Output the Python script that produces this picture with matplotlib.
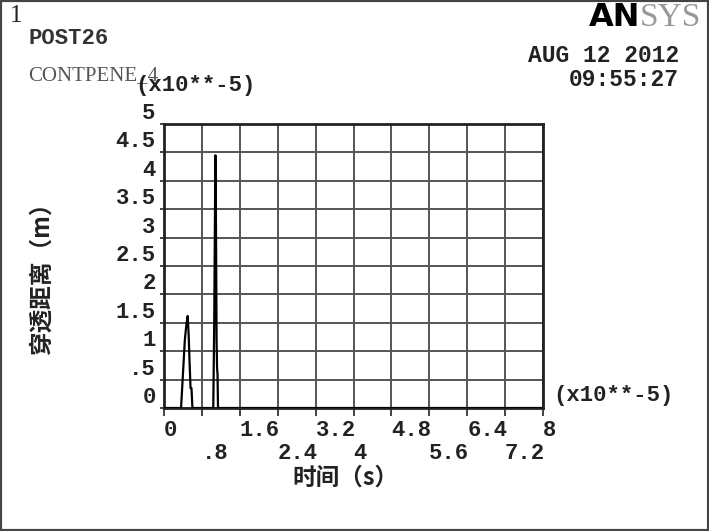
import matplotlib.pyplot as plt
from matplotlib.patches import Rectangle

plt.rcParams['font.family'] = ['Liberation Mono', 'DejaVu Sans Mono']

# contact penetration vs time (both axes in units of 1e-5)
time = [0, 0.36, 0.40, 0.44, 0.47, 0.50, 0.52, 0.54, 0.56, 0.58, 0.60,
        1.04, 1.06, 1.07, 1.085, 1.09, 1.10, 1.11, 1.12, 1.13, 1.14, 8.0]
pene = [0, 0, 0.6, 1.2, 1.45, 1.62, 1.3, 0.8, 0.35, 0.35, 0,
        0, 1.5, 2.7, 4.45, 4.2, 2.8, 1.2, 0.7, 0.6, 0, 0]

# x tick labels are staggered on two rows
xticks_top = [0, 1.6, 3.2, 4.8, 6.4, 8.0]
xlabels_top = ['0', '1.6', '3.2', '4.8', '6.4', '8']
xticks_low = [0.8, 2.4, 4.0, 5.6, 7.2]
xlabels_low = ['.8', '2.4', '4', '5.6', '7.2']
yticks = [0, 0.5, 1, 1.5, 2, 2.5, 3, 3.5, 4, 4.5, 5]
ylabels = ['0', '.5', '1', '1.5', '2', '2.5', '3', '3.5', '4', '4.5', '5']

fig = plt.figure(figsize=(7.09, 5.31), dpi=100)
ax = fig.add_axes([164/709, 1 - 408/531, 379/709, 284/531])

ax.plot(time, pene, color='black', lw=1.6, zorder=3)
ax.set_xlim(0, 8)
ax.set_ylim(0, 5)

ax.set_xticks(xticks_top, xlabels_top)
ax.set_xticks(xticks_low, xlabels_low, minor=True)
ax.set_yticks(yticks, ylabels)
for lab in ax.get_xticklabels() + ax.get_xticklabels(minor=True):
    lab.set_horizontalalignment('left')
    lab.set_fontweight('bold')
for lab in ax.get_yticklabels():
    lab.set_verticalalignment('bottom')
    lab.set_fontweight('bold')
ax.tick_params(axis='x', which='major', length=6, width=1.2, pad=3, labelsize=16, colors='#222')
ax.tick_params(axis='x', which='minor', length=6, width=1.2, pad=19, labelsize=16, colors='#222')
ax.tick_params(axis='y', length=3, width=1.2, pad=3, labelsize=16, colors='#222')
ax.grid(True, which='major', color='#555555', lw=1.4)
ax.grid(True, which='minor', axis='x', color='#555555', lw=1.4)
ax.set_axisbelow(True)
for s in ax.spines.values():
    s.set_linewidth(2)
    s.set_color('#222')

cjk = ['Noto Sans CJK SC', 'DejaVu Sans']
fig.text(345/709, 1 - 478/531, '时间（s）', family=cjk, fontsize=17, fontweight='bold',
         ha='center', va='center', color='#222')
fig.text(42/709, 1 - 273/531, '穿透距离（m）', family=cjk, fontsize=17, fontweight='bold',
         rotation=90, ha='center', va='center', color='#222')

# header texts
fig.text(10/709, 1 - 16/531, '1', fontsize=18, ha='left', va='center',
         family=['Liberation Serif'], color='#222')
fig.text(28/709, 1 - 39/531, 'POST26', fontsize=16, fontweight='bold', ha='left',
         va='center', color='#333')
fig.text(28/709, 1 - 76/531, 'CONTPENE_4', fontsize=15, ha='left', va='center',
         family=['Liberation Serif'], color='#555')
fig.text(135/709, 1 - 86/531, '(x10**-5)', fontsize=16, fontweight='bold', ha='left',
         va='center', color='#222')
fig.text(553/709, 1 - 395/531, '(x10**-5)', fontsize=16, fontweight='bold', ha='left',
         va='center', color='#222')
fig.text(679/709, 1 - 56/531, 'AUG 12 2012', fontsize=16.5, fontweight='bold', ha='right',
         va='center', color='#222')
fig.text(679/709, 1 - 80/531, '09:55:27', fontsize=16.5, fontweight='bold', ha='right',
         va='center', color='#222')
fig.text(640/709, 1 - 18/531, 'AN', fontsize=23, fontweight='bold', ha='right',
         va='center', family=['DejaVu Sans'], color='black')
fig.text(640/709, 1 - 18/531, 'SYS', fontsize=24, ha='left', va='center',
         family=['Liberation Serif'], color='#999')

fig.patches.append(Rectangle((0, 0), 1, 1, transform=fig.transFigure, fill=False,
                             edgecolor='#444', lw=3))

fig.savefig('out.png', dpi=100)
